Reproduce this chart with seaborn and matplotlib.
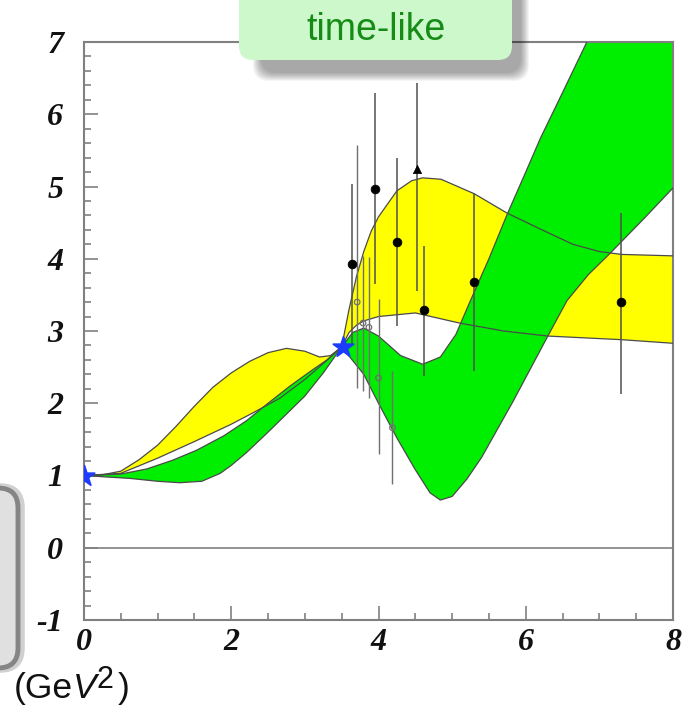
import numpy as np
import pandas as pd
import matplotlib
matplotlib.use("Agg")
import matplotlib.pyplot as plt
from matplotlib.patches import FancyBboxPatch
from matplotlib.ticker import FixedLocator, MultipleLocator, FixedFormatter
import seaborn as sns

# ---------------- data ----------------
yel_up_x = [0, 0.25, 0.5, 0.75, 1.0, 1.25, 1.5, 1.75, 2.0, 2.25, 2.5, 2.75, 3.0, 3.2, 3.35, 3.5,
            3.6, 3.7, 3.8, 3.9, 4.0, 4.25, 4.45, 4.6, 4.85, 5.3, 5.75, 6.2, 6.64, 7.0, 7.3, 8.0]
yel_up_y = [1.00, 1.01, 1.06, 1.22, 1.42, 1.68, 1.96, 2.22, 2.42, 2.58, 2.70, 2.76, 2.72, 2.64, 2.66, 2.78,
            3.30, 3.75, 4.10, 4.38, 4.58, 4.94, 5.08, 5.12, 5.10, 4.90, 4.63, 4.41, 4.20, 4.10, 4.06, 4.04]
yel_lo_x = [0, 0.5, 1.0, 1.5, 2.0, 2.3, 2.66, 3.0, 3.25, 3.5, 3.6, 3.7, 3.8, 4.0, 4.5, 5.1, 5.7, 6.3, 7.3, 8.0]
yel_lo_y = [1.00, 1.03, 1.24, 1.47, 1.71, 1.87, 2.07, 2.33, 2.55, 2.78, 2.98, 3.08, 3.14, 3.20, 3.25, 3.11,
            3.00, 2.93, 2.88, 2.83]

grn_up_x = [0, 0.5, 0.85, 1.2, 1.53, 1.9, 2.21, 2.5, 2.8, 3.1, 3.3, 3.5, 3.65, 3.8, 4.0, 4.3, 4.6, 4.84,
            5.05, 5.24, 5.5, 5.75, 6.0, 6.2, 6.5, 6.83, 7.2, 8.0]
grn_up_y = [1.00, 1.02, 1.09, 1.21, 1.35, 1.55, 1.76, 2.00, 2.24, 2.46, 2.60, 2.78, 2.98, 3.04, 2.93, 2.66,
            2.54, 2.64, 2.95, 3.40, 4.00, 4.62, 5.20, 5.67, 6.30, 7.00, 7.75, 9.40]
grn_lo_x = [0, 0.3, 0.62, 1.0, 1.3, 1.6, 1.85, 2.0, 2.21, 2.5, 2.66, 3.0, 3.25, 3.5, 3.8, 4.0, 4.25, 4.5,
            4.7, 4.84, 5.0, 5.2, 5.4, 5.83, 6.3, 6.56, 6.85, 7.15, 7.6, 8.0]
grn_lo_y = [1.00, 0.98, 0.96, 0.92, 0.90, 0.92, 1.03, 1.14, 1.32, 1.60, 1.76, 2.10, 2.42, 2.78, 2.40, 2.00,
            1.52, 1.08, 0.76, 0.66, 0.71, 0.95, 1.25, 2.03, 2.93, 3.42, 3.78, 4.08, 4.55, 4.98]

pts_x = [3.64, 3.95, 4.25, 4.62, 5.30, 7.30]
pts_y = [3.93, 4.97, 4.23, 3.29, 3.68, 3.40]
pts_lo = [2.80, 3.65, 3.07, 2.38, 2.45, 2.13]
pts_hi = [5.04, 6.30, 5.40, 4.18, 4.89, 4.64]

tri_x = [4.52]
tri_y = [5.24]
tri_lo = [3.55]
tri_hi = [6.43]

open_x = [3.71, 3.79, 3.87, 4.00, 4.19]
open_y = [3.40, 3.11, 3.05, 2.35, 1.66]
open_lo = [2.21, 2.17, 2.07, 1.30, 0.88]
open_hi = [5.58, 4.04, 4.02, 3.44, 2.45]

star_x = [0.0, 3.52]
star_y = [1.0, 2.78]

xticks = [0, 2, 4, 6, 8]
xtick_labels = ["0", "2", "4", "6", "8"]
yticks = [-1, 0, 1, 2, 3, 4, 5, 6, 7]
ytick_labels = ["-1", "0", "1", "2", "3", "4", "5", "6", "7"]

# ---------------- style ----------------
sns.set_theme(style="white")
plt.rcParams["font.family"] = ["Liberation Sans", "DejaVu Sans"]
plt.rcParams["axes.unicode_minus"] = False

W, H = 686, 711
fig = plt.figure(figsize=(W / 100, H / 100), dpi=100)
fig.patch.set_facecolor("white")
ax = fig.add_axes([84 / W, 91 / H, 589 / W, 578 / H])
ax.set_facecolor("white")

YEL = "#ffff00"
GRN = "#00ee00"
EDGE = "#4a4a4a"

# bands
ax.fill(np.r_[yel_up_x, yel_lo_x[::-1]], np.r_[yel_up_y, yel_lo_y[::-1]], color=YEL, lw=0, zorder=1)
ax.fill(np.r_[grn_up_x, grn_lo_x[::-1]], np.r_[grn_up_y, grn_lo_y[::-1]], color=GRN, lw=0, zorder=2)
for xs, ys in [(grn_up_x, grn_up_y), (grn_lo_x, grn_lo_y), (yel_up_x, yel_up_y), (yel_lo_x, yel_lo_y)]:
    sns.lineplot(x=xs, y=ys, sort=False, estimator=None, color=EDGE, lw=0.9, ax=ax, zorder=3)

# zero line
ax.axhline(0, color="#808080", lw=1.2, zorder=2)

# error bars
ax.vlines(pts_x, pts_lo, pts_hi, color="#505050", lw=1.1, zorder=4)
ax.vlines(tri_x, tri_lo, tri_hi, color="#505050", lw=1.1, zorder=4)
ax.vlines(open_x, open_lo, open_hi, color="#707070", lw=1.0, zorder=4)

# markers
sns.scatterplot(x=pts_x, y=pts_y, marker="o", s=40, color="black", edgecolor="black", ax=ax, zorder=6)
sns.scatterplot(x=tri_x, y=tri_y, marker="^", s=36, color="black", edgecolor="black", ax=ax, zorder=6)
sns.scatterplot(x=open_x, y=open_y, marker="o", s=16, facecolor="none", edgecolor="#707070",
                linewidth=0.9, ax=ax, zorder=6)
sns.scatterplot(x=star_x, y=star_y, marker="*", s=240, color="#1e3cff", edgecolor="#1e3cff", ax=ax, zorder=7)

# axes
ax.set_xlim(0, 8)
ax.set_ylim(-1, 7)
ax.set_xlabel("")
ax.set_ylabel("")
for sp in ax.spines.values():
    sp.set_visible(True)
    sp.set_color("#808080")
    sp.set_linewidth(1.5)
ax.xaxis.set_major_locator(FixedLocator(xticks))
ax.xaxis.set_major_formatter(FixedFormatter(xtick_labels))
ax.xaxis.set_minor_locator(MultipleLocator(0.5))
ax.yaxis.set_major_locator(FixedLocator(yticks))
ax.yaxis.set_major_formatter(FixedFormatter(ytick_labels))
ax.yaxis.set_minor_locator(MultipleLocator(0.2))
ax.tick_params(which="both", direction="in", color="#808080", width=1.2,
               top=False, right=False, bottom=True, left=True)
ax.tick_params(which="major", length=10)
ax.tick_params(which="minor", length=5)
ax.tick_params(axis="x", which="major", pad=6)
ax.tick_params(axis="y", which="major", pad=15)
for lab in ax.get_xticklabels() + ax.get_yticklabels():
    lab.set_fontfamily("Liberation Serif")
    lab.set_fontweight("bold")
    lab.set_fontstyle("italic")
    lab.set_fontsize(23)
    lab.set_color("#111111")

# overlay for decorative boxes (pixel coordinates)
ov = fig.add_axes([0, 0, 1, 1])
ov.set_xlim(0, W)
ov.set_ylim(H, 0)
ov.axis("off")

# title box shadow
for i in range(9, 0, -1):
    ov.add_patch(FancyBboxPatch((262 - i, -20), 258 + 2 * i, 92 + i,
                                boxstyle="round,pad=0,rounding_size=16",
                                fc="#000000", ec="none", alpha=0.045))
ov.add_patch(FancyBboxPatch((239, -30), 273, 90, boxstyle="round,pad=0,rounding_size=14",
                            fc="#ccf8cc", ec="none"))
ov.text(376, 30, "time-like", color="#168c16", fontsize=27, ha="center", va="center",
        family="Liberation Sans")

# partial grey box on left
ov.add_patch(FancyBboxPatch((-60, 486), 82, 184, boxstyle="round,pad=0,rounding_size=22",
                            fc="none", ec="#d0d0d0", lw=4))
ov.add_patch(FancyBboxPatch((-60, 488), 78, 180, boxstyle="round,pad=0,rounding_size=20",
                            fc="#e0e0e0", ec="#858585", lw=3.5))

# unit label "(GeV2)" assembled piecewise (large superscript)
fig.canvas.draw()
renderer = fig.canvas.get_renderer()
pieces = [("(Ge", "normal", 25.5, 0), ("V", "italic", 25.5, 0), ("2", "normal", 22, 10), (")", "normal", 25.5, 0)]
xcur = 14
base = 698
for txt, sty, fs, rise in pieces:
    t = ov.text(xcur, base - rise, txt, fontsize=fs, fontstyle=sty, ha="left", va="baseline",
                color="#111111", family="Liberation Sans")
    bb = t.get_window_extent(renderer=renderer)
    xcur = bb.x1 + (4 if txt == "2" else 0)

fig.savefig("out.png", dpi=100)
